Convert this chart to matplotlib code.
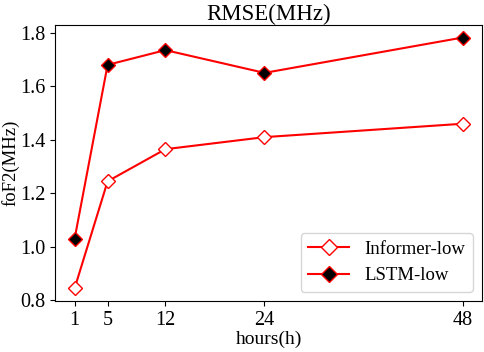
import matplotlib
matplotlib.use("Agg")
import matplotlib.pyplot as plt

hours = [1, 5, 12, 24, 48]
informer_low = [0.845, 1.245, 1.365, 1.41, 1.46]
lstm_low = [1.03, 1.68, 1.735, 1.65, 1.782]

plt.rcParams['font.family'] = ['Liberation Serif', 'DejaVu Serif']
plt.rcParams['font.size'] = 14

fig = plt.figure(figsize=(4.84, 3.52), dpi=100)
ax = fig.add_axes([0.114, 0.145, 0.882, 0.784])
ax.plot(hours, informer_low, color='red', marker='D', markerfacecolor='white',
        markeredgecolor='red', markersize=7.5, lw=1.5, label='Informer-low')
ax.plot(hours, lstm_low, color='red', marker='D', markerfacecolor='black',
        markeredgecolor='red', markersize=7.5, lw=1.5, label='LSTM-low')
ax.set_xticks(hours)
ax.set_yticks([0.8, 1.0, 1.2, 1.4, 1.6, 1.8])
ax.tick_params(labelsize=14.5)
ax.set_title('RMSE(MHz)', fontsize=16.5, pad=3)
ax.set_xlabel('hours(h)', fontsize=14, labelpad=1)
ax.set_ylabel('foF2(MHz)', fontsize=13.5)
ax.yaxis.set_label_coords(-0.083, 0.5)
ax.legend(loc='lower right', fontsize=13.5, markerscale=1.1, handlelength=2.2)
fig.savefig('out.png', dpi=100)
